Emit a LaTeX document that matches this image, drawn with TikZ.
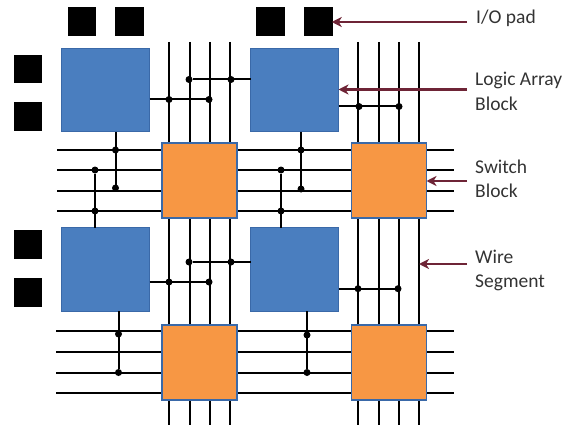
\documentclass[tikz,border=0pt]{standalone}
\usepackage{fontspec}
\setmainfont{Carlito}
\usetikzlibrary{arrows.meta}
\definecolor{labblue}{HTML}{4A7EBF}
\definecolor{swor}{HTML}{F79744}
\definecolor{edgeblue}{HTML}{3A69A8}
\definecolor{maroon}{HTML}{6E2436}
\definecolor{txt}{HTML}{333333}
\tikzset{
  x=1pt,y=-1pt,
  pad/.style={draw=black,fill=black,line width=0.5pt,minimum size=27.5pt,inner sep=0pt,outer sep=0pt},
  lab/.style={draw=edgeblue,fill=labblue,line width=1pt,minimum width=88pt,minimum height=83.5pt,inner sep=0pt,outer sep=0pt},
  sw/.style={draw=edgeblue,fill=swor,line width=1.2pt,minimum width=75pt,minimum height=75pt,inner sep=0pt,outer sep=0pt},
  wire/.style={draw=black,line width=2pt},
  tap/.style={circle,fill=black,minimum size=7pt,inner sep=0pt,outer sep=0pt},
  pointer/.style={draw=maroon,line width=2.5pt,-{Stealth[length=10pt,width=10pt,inset=3pt]}},
  caption/.style={anchor=west,align=left,inner sep=0pt,text=txt,font=\fontsize{19.5}{24.5}\selectfont}
}
\begin{document}
\begin{tikzpicture}
\useasboundingbox (0,0) rectangle (567,425);
% vertical wires
\foreach \n/\x in {a/169,b/190,c/210,d/230,e/358,f/378.5,g/399,h/419}{
  \coordinate (vt\n) at (\x,42);
  \coordinate (vb\n) at (\x,425);
  \draw[wire] (vt\n) -- (vb\n);
}
% horizontal wires
\foreach \n/\y/\xs in {p/150/57,q/170/57,r/191/57,s/211/57,t/331/56,u/352/56,v/372.5/56,w/393/56}{
  \coordinate (hl\n) at (\xs,\y);
  \coordinate (hr\n) at (454,\y);
  \draw[wire] (hl\n) -- (hr\n);
}
% pads
\node[pad] (p1) at (81.5,21.5) {};
\node[pad] (p2) at (129,21.5) {};
\node[pad] (p3) at (270,21.5) {};
\node[pad] (p4) at (318,21.5) {};
\node[pad] (p5) at (27.5,69) {};
\node[pad] (p6) at (27.5,116) {};
\node[pad] (p7) at (27.5,244) {};
\node[pad] (p8) at (27.5,292) {};
% junction dots
\foreach \n/\x/\y in {
  a1/169/99.5,a2/209/99.5,a3/189/79.5,a4/231/79.5,a5/359/106.5,a6/399/106.5,
  b1/115.5/150,b2/115.5/188,b3/95/170,b4/95/211,b5/301/150,b6/301/189,b7/281/170,b8/281/211,
  c1/169/282,c2/209/282,c3/189/262,c4/231/262,c5/358/288.7,c6/398/288.7,
  d1/118.5/334,d2/118.5/372.5,d3/307/335,d4/307/372.5}{
  \node[tap] (\n) at (\x,\y) {};
}
% logic array blocks and switch blocks
\node[lab] (L1) at (105.5,90) {};
\node[lab] (L2) at (294.5,90) {};
\node[lab] (L3) at (105.5,269.5) {};
\node[lab] (L4) at (294.5,269.5) {};
\node[sw] (S1) at (199.5,180.5) {};
\node[sw] (S2) at (389,180.5) {};
\node[sw] (S3) at (199.5,362.5) {};
\node[sw] (S4) at (389,362.5) {};
% connections
\draw[wire] (L1.east |- a1) -- (a2);
\draw[wire] (a3) -- (L2.west |- a3);
\draw[wire] (L2.east |- a5) -- (a6);
\draw[wire] (L1.south -| b2) -- (b2);
\draw[wire] (b3) -- (L3.north -| b3);
\draw[wire] (L2.south -| b6) -- (b6);
\draw[wire] (b7) -- (L4.north -| b7);
\draw[wire] (L3.east |- c1) -- (c2);
\draw[wire] (c3) -- (L4.west |- c3);
\draw[wire] (L4.east |- c5) -- (c6);
\draw[wire] (L3.south -| d2) -- (d2);
\draw[wire] (L4.south -| d4) -- (d4);
% captions
\node[caption] (t1) at (476,18) {I/O pad};
\node[caption] (t2) at (475,91.5) {Logic Array\\Block};
\node[caption] (t3) at (475,179) {Switch\\Block};
\node[caption] (t4) at (475,270.5) {Wire\\Segment};
\coordinate (o1) at (467,22);
\coordinate (o2) at (467,89.5);
\coordinate (o3) at (467,181);
\coordinate (o4) at (467,264);
\draw[pointer] (o1) -- (p4.east |- o1);
\draw[pointer] (o2) -- (L2.east |- o2);
\draw[pointer] (o3) -- (S2.east |- o3);
\draw[pointer] (o4) -- (vth |- o4);
\end{tikzpicture}
\end{document}
